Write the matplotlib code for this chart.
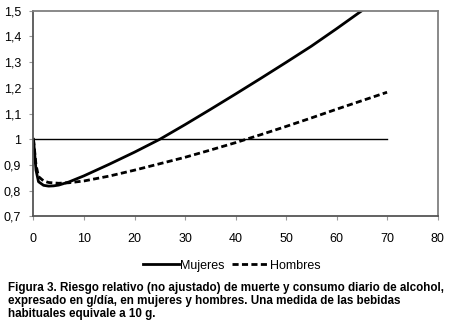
import matplotlib
matplotlib.use("Agg")
import matplotlib.pyplot as plt
from matplotlib.ticker import FuncFormatter

plt.rcParams['font.family'] = ['Liberation Sans', 'DejaVu Sans']

# consumo de alcohol (g/dia) y riesgo relativo
x_muj = [0, 0.5, 1, 2, 3, 4, 5, 7, 10, 15, 20, 25, 30, 35, 40, 45, 50, 55, 60, 65, 70]
rr_muj = [1.0, 0.88, 0.835, 0.821, 0.818, 0.819, 0.822, 0.834, 0.858, 0.903, 0.950,
          1.000, 1.057, 1.116, 1.176, 1.237, 1.299, 1.362, 1.430, 1.500, 1.572]

x_hom = [0, 0.5, 1, 2, 3, 5, 7, 10, 15, 20, 25, 30, 35, 40, 45, 50, 55, 60, 65, 70]
rr_hom = [1.0, 0.90, 0.855, 0.838, 0.832, 0.829, 0.831, 0.838, 0.857, 0.880, 0.905,
          0.930, 0.958, 0.987, 1.018, 1.050, 1.083, 1.117, 1.150, 1.183]

ref_x = [0, 70]
ref_y = [1, 1]

caption = ["Figura 3. Riesgo relativo (no ajustado) de muerte y consumo diario de alcohol,",
           "expresado en g/día, en mujeres y hombres. Una medida de las bebidas",
           "habituales equivale a 10 g."]

fig = plt.figure(figsize=(4.5, 3.25), dpi=100)
ax = fig.add_axes([0.0744, 0.334, 0.898, 0.633])

ax.plot(ref_x, ref_y, color='black', lw=1.0)
l1, = ax.plot(x_muj, rr_muj, color='black', lw=2.0, label='Mujeres')
l2, = ax.plot(x_hom, rr_hom, color='black', lw=2.0, ls=(0, (2.2, 1.2)), label='Hombres')

ax.set_xlim(0, 80)
ax.set_ylim(0.7, 1.5)
ax.set_xticks(range(0, 81, 10))
ax.set_yticks([0.7, 0.8, 0.9, 1.0, 1.1, 1.2, 1.3, 1.4, 1.5])
ax.yaxis.set_major_formatter(FuncFormatter(
    lambda v, p: ('%g' % round(v, 1)).replace('.', ',')))
ax.tick_params(labelsize=9, length=3, width=0.8, color='#999999')
ax.tick_params(axis='x', pad=9)
ax.tick_params(axis='y', pad=6)

for s in ax.spines.values():
    s.set_color('#808080')
    s.set_linewidth(1.3)
ax.spines['left'].set_color('#555555')
ax.spines['bottom'].set_color('#555555')

fig.legend(handles=[l1, l2], loc='center', bbox_to_anchor=(0.515, 0.183), ncol=2,
           frameon=False, fontsize=9, handlelength=2.9, handletextpad=0.1,
           columnspacing=0.6)

for i, line in enumerate(caption):
    fig.text(0.018, 0.114 - i * 0.040, line, fontsize=8.4, fontweight='bold',
             ha='left', va='center')

fig.savefig('out.png', dpi=100)
